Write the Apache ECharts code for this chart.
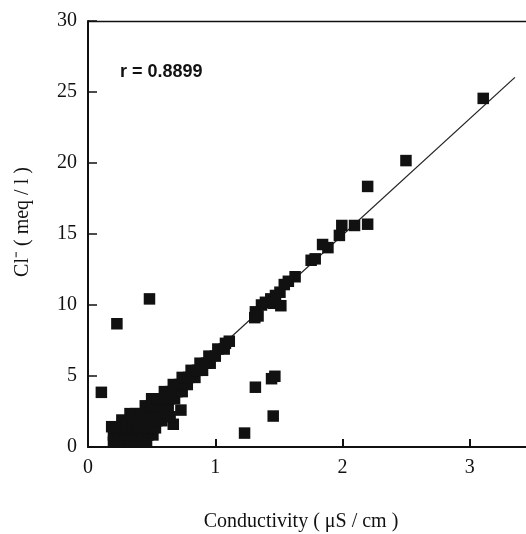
<!DOCTYPE html>
<html><head><meta charset="utf-8">
<script src="https://cdn.jsdelivr.net/npm/echarts@6/dist/echarts.min.js"></script>
<style>html,body{margin:0;padding:0;background:#fff}#c{width:526px;height:534px}</style>
</head><body><div id="c"></div>
<script>
const xTicks = [0, 1, 2, 3];
const yTicks = [0, 5, 10, 15, 20, 25, 30];
const xTitle = 'Conductivity ( \u03bcS / cm )';
const yTitle = 'Cl\u207b ( meq / l )';
const rLabel = 'r = 0.8899';

// scatter points: conductivity (x) and chloride (y)
const conductivity = [
  3.105, 2.498, 2.197, 2.197, 2.094, 1.994, 1.975, 1.843, 1.885, 1.753, 1.785,
  1.627, 1.574, 1.542, 1.508, 1.473, 1.436, 1.394, 1.363, 1.515, 1.455, 1.315, 1.310, 1.336,
  0.483, 0.227, 1.468, 1.442, 1.315, 1.455, 1.230, 0.105, 0.186, 0.266,
  0.20, 0.245, 0.29, 0.335, 0.38, 0.425, 0.46,
  0.20, 0.245, 0.29, 0.335, 0.38, 0.425, 0.47, 0.51,
  0.21, 0.255, 0.30, 0.345, 0.39, 0.435, 0.48, 0.53,
  0.31, 0.355, 0.40, 0.445, 0.49, 0.54, 0.58,
  0.33, 0.375, 0.42, 0.465, 0.51, 0.555, 0.60,
  0.45, 0.495, 0.54, 0.585, 0.63,
  0.50, 0.545, 0.59, 0.64, 0.68,
  0.60, 0.65, 0.70, 0.74,
  0.67, 0.72, 0.78,
  0.74, 0.79, 0.84,
  0.81, 0.86, 0.90,
  0.88, 0.93, 0.96,
  0.95, 1.00,
  1.02, 1.07,
  1.08, 1.11,
  0.73, 0.67, 0.645
];
const chloride = [
  24.55, 20.17, 18.35, 15.69, 15.60, 15.60, 14.90, 14.26, 14.04, 13.15, 13.25,
  11.99, 11.67, 11.44, 10.90, 10.67, 10.43, 10.19, 10.00, 9.95, 10.12, 9.52, 9.11, 9.23,
  10.43, 8.68, 4.98, 4.81, 4.21, 2.18, 0.98, 3.85, 1.43, 1.90,
  0.35, 0.35, 0.35, 0.35, 0.35, 0.35, 0.35,
  0.85, 0.85, 0.85, 0.85, 0.85, 0.85, 0.85, 0.85,
  1.35, 1.35, 1.35, 1.35, 1.35, 1.35, 1.35, 1.35,
  1.85, 1.85, 1.85, 1.85, 1.85, 1.85, 1.85,
  2.35, 2.35, 2.35, 2.35, 2.35, 2.35, 2.35,
  2.90, 2.90, 2.90, 2.90, 2.90,
  3.40, 3.40, 3.40, 3.40, 3.40,
  3.90, 3.90, 3.90, 3.90,
  4.40, 4.40, 4.40,
  4.90, 4.90, 4.90,
  5.40, 5.40, 5.40,
  5.90, 5.90, 5.90,
  6.40, 6.40,
  6.90, 6.90,
  7.30, 7.45,
  2.60, 1.60, 2.13
];
// regression line end points
const fitX = [0.18, 3.354];
const fitY = [0.0, 26.03];

const points = conductivity.map((x, i) => [x, chloride[i]]);
const fitLine = fitX.map((x, i) => [x, fitY[i]]);

const serif = 'Liberation Serif, Times New Roman, serif';
const chart = echarts.init(document.getElementById('c'), null, {renderer: 'canvas'});
chart.setOption({
  animation: false,
  backgroundColor: '#fff',
  grid: {left: 88, top: 21, bottom: 87, right: -7.5, outerBoundsMode: 'none', containLabel: false},
  xAxis: [{
    type: 'value', min: 0, max: 3.5, interval: 1,
    axisLine: {show: true, onZero: false, lineStyle: {color: '#111', width: 2}},
    axisTick: {show: true, inside: true, length: 8, lineStyle: {color: '#111', width: 2}},
    axisLabel: {color: '#111', fontFamily: serif, fontSize: 20, margin: 11, formatter: v => (xTicks.indexOf(v) >= 0 ? String(v) : '')},
    splitLine: {show: false}
  }, {
    type: 'value', position: 'top', min: 0, max: 3.5, interval: 1,
    axisLine: {show: true, onZero: false, lineStyle: {color: '#111', width: 1.3}},
    axisTick: {show: false}, axisLabel: {show: false}, splitLine: {show: false}
  }],
  yAxis: {
    type: 'value', min: 0, max: 30, interval: 5,
    axisLine: {show: true, onZero: false, lineStyle: {color: '#111', width: 2}},
    axisTick: {show: true, inside: true, length: 9, lineStyle: {color: '#111', width: 1.5}},
    axisLabel: {color: '#111', fontFamily: serif, fontSize: 20, margin: 11, formatter: v => (yTicks.indexOf(v) >= 0 ? String(v) : '')},
    splitLine: {show: false}
  },
  graphic: [
    {type: 'text', x: 120, y: 72, style: {text: rLabel, fill: '#111', font: 'bold 18px "Liberation Sans", Arial, sans-serif', verticalAlign: 'middle', align: 'left'}},
    {type: 'text', x: 301, y: 522, style: {text: xTitle, fill: '#111', font: '20px "Liberation Serif", "Times New Roman", serif', verticalAlign: 'middle', align: 'center'}},
    {type: 'text', x: 23, y: 222, rotation: Math.PI / 2, style: {text: yTitle, fill: '#111', font: '20px "Liberation Serif", "Times New Roman", serif', verticalAlign: 'middle', align: 'center'}}
  ],
  series: [
    {type: 'line', data: fitLine, symbol: 'none', lineStyle: {color: '#222', width: 1.3}, z: 1},
    {type: 'scatter', data: points, symbol: 'rect', symbolSize: 11.5, itemStyle: {color: '#111', opacity: 1}, z: 2}
  ]
});
</script></body></html>
